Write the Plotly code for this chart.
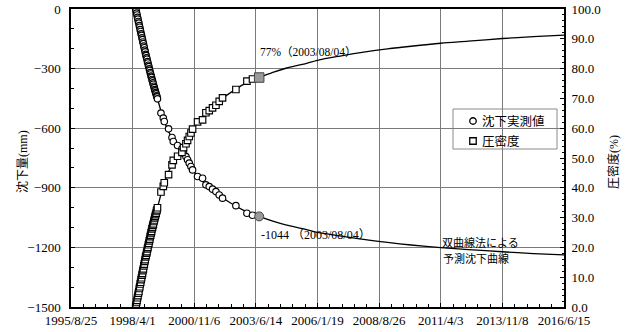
import plotly.graph_objects as go

# ---------------- data ----------------
# measured settlement (mm) and degree of consolidation (%)
meas_dates = [
    "1998-05-18", "1998-05-25", "1998-06-01", "1998-06-08", "1998-06-15", "1998-06-22",
    "1998-06-29", "1998-07-06", "1998-07-13", "1998-07-20", "1998-07-27", "1998-08-03",
    "1998-08-10", "1998-08-17", "1998-08-24", "1998-08-31", "1998-09-07", "1998-09-14",
    "1998-09-21", "1998-09-28", "1998-10-05", "1998-10-12", "1998-10-19", "1998-10-26",
    "1998-11-02", "1998-11-09", "1998-11-16", "1998-11-23", "1998-11-30", "1998-12-07",
    "1998-12-14", "1998-12-21", "1998-12-28", "1999-01-04", "1999-01-11", "1999-01-18",
    "1999-01-25", "1999-02-01", "1999-02-08", "1999-02-15", "1999-02-22", "1999-03-01",
    "1999-03-08", "1999-03-15", "1999-03-22", "1999-03-29", "1999-04-05", "1999-04-12",
    "1999-04-19",
    "1999-06-12", "1999-07-18", "1999-08-02", "1999-10-07", "1999-11-29", "1999-12-19",
    "2000-02-23", "2000-04-30", "2000-05-25", "2000-07-01", "2000-07-26", "2000-08-21",
    "2000-09-16", "2000-10-11", "2000-12-27", "2001-03-14", "2001-05-05", "2001-06-25",
    "2001-08-15", "2001-10-06", "2001-11-26", "2002-01-16", "2002-08-10", "2003-01-27",
    "2003-04-23",
]
settlement = [
    0, -9, -21, -30, -42, -51, -63, -71, -84, -92, -104, -113, -125, -133, -145, -154,
    -166, -174, -187, -195, -207, -216, -228, -235, -246, -253, -265, -272, -283, -290,
    -301, -309, -320, -327, -338, -344, -355, -362, -372, -379, -389, -396, -406, -412,
    -421, -427, -437, -442, -452,
    -524, -549, -566, -603, -647, -667, -687, -704, -726, -743, -759, -776, -793, -810,
    -843, -852, -885, -894, -907, -919, -936, -952, -990, -1028, -1038,
]
consolidation = [
    0.0, 0.7, 1.5, 2.2, 3.1, 3.8, 4.6, 5.2, 6.2, 6.8, 7.7, 8.3, 9.2, 9.8, 10.7, 11.3,
    12.2, 12.8, 13.8, 14.4, 15.3, 15.9, 16.8, 17.3, 18.1, 18.6, 19.5, 20.0, 20.9, 21.4,
    22.2, 22.8, 23.6, 24.1, 24.9, 25.4, 26.2, 26.7, 27.4, 27.9, 28.7, 29.2, 29.9, 30.4,
    31.0, 31.5, 32.2, 32.6, 33.3,
    38.6, 40.5, 41.7, 44.4, 47.7, 49.2, 50.6, 51.9, 53.5, 54.8, 55.9, 57.2, 58.4, 59.7,
    62.1, 62.8, 65.2, 65.9, 66.8, 67.7, 69.0, 70.2, 73.0, 75.8, 76.5,
]

# highlighted latest measurement
last_date = ["2003-08-04"]
last_settlement = [-1044]
last_consolidation = [77.0]

# hyperbolic-method prediction curves
curve_dates = [
    "1998-05-18", "1998-08-15", "1998-11-01", "1999-01-20", "1999-04-19", "1999-08-01",
    "1999-12-01", "2000-04-01", "2000-08-01", "2000-12-01", "2001-06-01", "2001-12-01",
    "2002-06-01", "2002-12-01", "2003-08-04", "2004-03-01", "2004-10-01", "2005-06-01",
    "2006-01-19", "2007-01-01", "2008-01-01", "2009-01-01", "2010-01-01", "2011-04-03",
    "2012-06-01", "2013-11-08", "2015-03-01", "2016-06-15",
]
curve_settlement = [
    0, -130, -244, -350, -452, -566, -652, -712, -772, -830, -893, -940, -979, -1012,
    -1044, -1068, -1088, -1105, -1124, -1142, -1160, -1175, -1188, -1201, -1211, -1222,
    -1231, -1238,
]
curve_consolidation = [
    0.0, 9.6, 18.0, 25.8, 33.3, 41.7, 48.0, 52.5, 56.9, 61.2, 65.8, 69.3, 72.1, 74.6,
    76.9, 78.7, 80.2, 81.4, 82.8, 84.2, 85.5, 86.6, 87.5, 88.5, 89.2, 90.1, 90.7, 91.2,
]

# axes
x_tick_vals = ["1995-08-25", "1998-04-01", "2000-11-06", "2003-06-14", "2006-01-19",
               "2008-08-26", "2011-04-03", "2013-11-08", "2016-06-15"]
x_tick_labels = ["1995/8/25", "1998/4/1", "2000/11/6", "2003/6/14", "2006/1/19",
                 "2008/8/26", "2011/4/3", "2013/11/8", "2016/6/15"]
y_left_range = [-1500, 0]
y_right_range = [0, 100]

series_names = ["沈下実測値", "圧密度"]
left_title = "沈下量(mm)"
right_title = "圧密度(%)"
label_comp = "77%（2003/08/04）"
label_settle = "-1044 （2003/08/04）"
label_curve = ["双曲線法による", "予測沈下曲線"]

# ---------------- figure ----------------
SERIF = "Liberation Serif, Times New Roman, serif"
JP = "Liberation Serif, Noto Sans CJK JP, serif"
GRID = "#7a7a7a"

W, H = 628, 332
ML, MR, MT, MB = 71, 64, 9, 25
PW, PH = W - ML - MR, H - MT - MB


def px_x(px):
    return (px - ML) / PW


def px_y(py):
    return (H - MB - py) / PH


fig = go.Figure()

fig.add_trace(go.Scatter(
    x=curve_dates, y=curve_settlement, mode="lines", yaxis="y",
    line=dict(color="black", width=1.3, shape="spline", smoothing=0.8),
    showlegend=False, hoverinfo="skip"))
fig.add_trace(go.Scatter(
    x=curve_dates, y=curve_consolidation, mode="lines", yaxis="y2",
    line=dict(color="black", width=1.3, shape="spline", smoothing=0.8),
    showlegend=False, hoverinfo="skip"))

fig.add_trace(go.Scatter(
    x=meas_dates, y=settlement, mode="markers", name=series_names[0], yaxis="y",
    marker=dict(symbol="circle", size=6.5, color="white",
                line=dict(color="black", width=1.15)), showlegend=False))
fig.add_trace(go.Scatter(
    x=meas_dates, y=consolidation, mode="markers", name=series_names[1], yaxis="y2",
    marker=dict(symbol="square", size=6.5, color="white",
                line=dict(color="black", width=1.15)), showlegend=False))

fig.add_trace(go.Scatter(
    x=last_date, y=last_settlement, mode="markers", yaxis="y", showlegend=False,
    marker=dict(symbol="circle", size=9, color="#9a9a9a",
                line=dict(color="#444444", width=1))))
fig.add_trace(go.Scatter(
    x=last_date, y=last_consolidation, mode="markers", yaxis="y2", showlegend=False,
    marker=dict(symbol="square", size=9.5, color="#9a9a9a",
                line=dict(color="#444444", width=1))))

# legend symbols, drawn on a hidden unit overlay axis pair
legend_sym_x = [px_x(473), px_x(473)]
legend_sym_y = [px_y(121), px_y(141)]
fig.add_trace(go.Scatter(
    x=legend_sym_x[:1], y=legend_sym_y[:1], xaxis="x3", yaxis="y3", mode="markers",
    marker=dict(symbol="circle", size=6.5, color="white", line=dict(color="black", width=1.3)),
    showlegend=False, hoverinfo="skip"))
fig.add_trace(go.Scatter(
    x=legend_sym_x[1:], y=legend_sym_y[1:], xaxis="x3", yaxis="y3", mode="markers",
    marker=dict(symbol="square", size=6.5, color="white", line=dict(color="black", width=1.3)),
    showlegend=False, hoverinfo="skip"))

fig.update_layout(
    width=W, height=H,
    margin=dict(l=ML, r=MR, t=MT, b=MB, autoexpand=False),
    paper_bgcolor="white", plot_bgcolor="white",
    font=dict(family=SERIF, size=12, color="black"),
    showlegend=False,
    xaxis=dict(
        type="date", range=[x_tick_vals[0], x_tick_vals[-1]],
        tickmode="array", tickvals=x_tick_vals, ticktext=x_tick_labels,
        showgrid=True, gridcolor=GRID, gridwidth=1,
        showline=True, linecolor="black", linewidth=1.5, mirror=True,
        ticks="inside", ticklen=4, tickcolor="black", ticklabelstandoff=1,
        minor=dict(tick0=x_tick_vals[0], dtick=190 * 86400000, ticks="inside",
                   ticklen=3, tickcolor="black", showgrid=False),
        tickfont=dict(family=SERIF, size=13, color="black"),
        zeroline=False, fixedrange=True, automargin=False),
    yaxis=dict(
        range=y_left_range, tickmode="linear", tick0=0, dtick=300,
        showgrid=True, gridcolor=GRID, gridwidth=1,
        showline=True, linecolor="black", linewidth=1.5,
        ticks="inside", ticklen=4, tickcolor="black", ticklabelstandoff=6,
        minor=dict(dtick=100, ticks="inside", ticklen=3, tickcolor="black",
                   showgrid=False),
        tickfont=dict(family=SERIF, size=13, color="black"),
        zeroline=False, fixedrange=True, automargin=False),
    yaxis2=dict(
        range=y_right_range, overlaying="y", side="right",
        tickmode="linear", tick0=0, dtick=10, tickformat=".1f",
        showgrid=False, showline=True, linecolor="black", linewidth=2,
        ticks="inside", ticklen=4, tickcolor="black", ticklabelstandoff=3,
        minor=dict(dtick=2, ticks="inside", ticklen=2, tickcolor="black"),
        tickfont=dict(family=SERIF, size=13, color="black"),
        zeroline=False, fixedrange=True, automargin=False),
    xaxis3=dict(overlaying="x", anchor="y3", range=[0, 1], visible=False,
                fixedrange=True, automargin=False),
    yaxis3=dict(overlaying="y", anchor="x3", range=[0, 1], visible=False,
                fixedrange=True, automargin=False),
)

# legend box
fig.add_shape(type="rect", xref="paper", yref="paper",
              x0=px_x(453), x1=px_x(557), y0=px_y(149), y1=px_y(109),
              line=dict(color="#8a8a8a", width=1), fillcolor="white", layer="between")
fig.add_annotation(xref="paper", yref="paper", x=px_x(480), y=px_y(121),
                   text=series_names[0], showarrow=False, xanchor="left", yanchor="middle",
                   font=dict(family=JP, size=12.5))
fig.add_annotation(xref="paper", yref="paper", x=px_x(480), y=px_y(141),
                   text=series_names[1], showarrow=False, xanchor="left", yanchor="middle",
                   font=dict(family=JP, size=12.5))

annos = [
    dict(x="2003-07-20", y=85.7, yref="y2", text=label_comp, xanchor="left",
         font=dict(family=JP, size=11.5)),
    dict(x="2003-08-04", y=-1137, yref="y", text=label_settle, xanchor="left",
         font=dict(family=JP, size=12)),
    dict(x="2011-03-20", y=-1178, yref="y", text=label_curve[0], xanchor="left",
         font=dict(family=JP, size=11)),
    dict(x="2011-04-03", y=-1258, yref="y", text=label_curve[1], xanchor="left",
         font=dict(family=JP, size=11)),
]
for a in annos:
    fig.add_annotation(xref="x", showarrow=False, yanchor="middle", **a)

fig.add_annotation(xref="paper", yref="paper", x=px_x(22), y=px_y(162),
                   text=left_title, textangle=-90, showarrow=False,
                   xanchor="center", yanchor="middle",
                   font=dict(family=JP, size=12))
fig.add_annotation(xref="paper", yref="paper", x=px_x(614), y=px_y(162),
                   text=right_title, textangle=-90, showarrow=False,
                   xanchor="center", yanchor="middle",
                   font=dict(family=JP, size=12))

# the page's default body margin would shift the 628x332 figure; remove it
fig.write_html(
    "out.html",
    config={"displayModeBar": False},
    post_script="document.body.style.margin='0';document.body.style.overflow='hidden';",
)
